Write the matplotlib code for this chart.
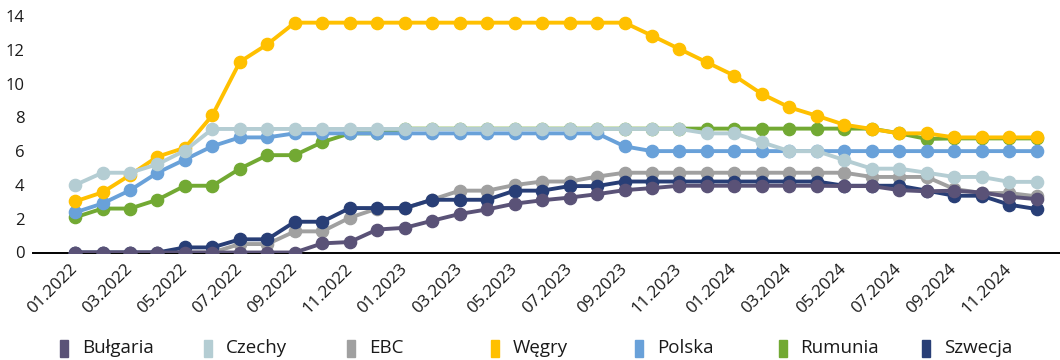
import matplotlib.pyplot as plt
from matplotlib.patches import Rectangle

plt.rcParams['font.family'] = ['Open Sans', 'DejaVu Sans']

# stopy procentowe, dane miesięczne 01.2022 - 12.2024
etykiety = ["01.2022", "03.2022", "05.2022", "07.2022", "09.2022", "11.2022",
            "01.2023", "03.2023", "05.2023", "07.2023", "09.2023", "11.2023",
            "01.2024", "03.2024", "05.2024", "07.2024", "09.2024", "11.2024"]

bulgaria = [0, 0, 0, 0, 0, 0, 0, 0, 0, 0.54, 0.62, 1.36,
            1.46, 1.88, 2.28, 2.55, 2.89, 3.09, 3.25, 3.45, 3.69, 3.81, 3.95, 3.95,
            3.95, 3.95, 3.95, 3.95, 3.93, 3.93, 3.69, 3.62, 3.66, 3.55, 3.30, 3.16]
czechy = [3.99, 4.72, 4.72, 5.22, 6.03, 7.31, 7.31, 7.31, 7.31, 7.31, 7.31, 7.31,
          7.31, 7.31, 7.31, 7.31, 7.31, 7.31, 7.31, 7.31, 7.31, 7.31, 7.31, 7.05,
          7.05, 6.52, 6.00, 6.00, 5.47, 4.96, 4.96, 4.72, 4.47, 4.47, 4.18, 4.18]
ebc = [0, 0, 0, 0, 0, 0, 0.50, 0.50, 1.25, 1.25, 2.06, 2.60,
       2.61, 3.13, 3.66, 3.66, 3.99, 4.20, 4.20, 4.49, 4.72, 4.72, 4.72, 4.72,
       4.72, 4.72, 4.72, 4.72, 4.72, 4.47, 4.47, 4.47, 3.76, 3.52, 3.52, 3.32]
wegry = [3.02, 3.56, 4.58, 5.67, 6.20, 8.12, 11.28, 12.32, 13.6, 13.6, 13.6, 13.6,
         13.6, 13.6, 13.6, 13.6, 13.6, 13.6, 13.6, 13.6, 13.6, 12.83, 12.04, 11.25,
         10.46, 9.38, 8.59, 8.09, 7.56, 7.31, 7.05, 7.05, 6.81, 6.81, 6.81, 6.81]
polska = [2.37, 2.90, 3.68, 4.72, 5.50, 6.29, 6.81, 6.81, 7.05, 7.05, 7.05, 7.05,
          7.05, 7.05, 7.05, 7.05, 7.05, 7.05, 7.05, 7.05, 6.28, 6.00, 6.00, 6.00,
          6.00, 6.00, 6.00, 6.00, 6.00, 6.00, 6.00, 6.00, 6.00, 6.00, 6.00, 6.00]
rumunia = [2.08, 2.60, 2.60, 3.12, 3.95, 3.95, 4.96, 5.76, 5.76, 6.53, 7.05, 7.05,
           7.33, 7.33, 7.33, 7.33, 7.33, 7.33, 7.33, 7.33, 7.33, 7.33, 7.33, 7.33,
           7.33, 7.33, 7.33, 7.33, 7.33, 7.33, 7.05, 6.72, 6.75, 6.75, 6.75, 6.75]
szwecja = [0, 0, 0, 0, 0.30, 0.30, 0.78, 0.78, 1.82, 1.82, 2.63, 2.63,
           2.63, 3.12, 3.12, 3.12, 3.66, 3.66, 3.93, 3.93, 4.20, 4.20, 4.20, 4.20,
           4.20, 4.20, 4.20, 4.20, 3.95, 3.95, 3.95, 3.66, 3.36, 3.36, 2.83, 2.57]

# nazwa, dane, kolor, kolejnosc rysowania
serie = [
    ("Bułgaria", bulgaria, "#5a5277", 9),
    ("Czechy", czechy, "#b4cdd3", 8),
    ("EBC", ebc, "#a0a0a0", 6),
    ("Węgry", wegry, "#ffc000", 5),
    ("Polska", polska, "#69a1d9", 4),
    ("Rumunia", rumunia, "#72a933", 3),
    ("Szwecja", szwecja, "#283e76", 7),
]

W, H = 1060, 360
fig = plt.figure(figsize=(W / 100, H / 100), dpi=100)
ax = fig.add_axes([33 / W, 1 - 252.5 / H, (W - 33) / W, (252.5 - 15.9) / H])

x = list(range(len(bulgaria)))
for nazwa, dane, kolor, z in serie:
    ax.plot(x, dane, color=kolor, lw=2.8, marker='o', ms=8.8, zorder=z,
            solid_joinstyle='round')

ax.set_xlim(-1.53, 35.85)
ax.set_ylim(0, 14)
ax.set_yticks(range(0, 15, 2))
ax.set_xticks(range(0, 36, 2))
ax.set_xticklabels(etykiety, rotation=45, ha='right', va='center',
                   rotation_mode='anchor')
ax.tick_params(axis='y', length=0, labelsize=12, colors='#1a1a1a', pad=6)
ax.tick_params(axis='x', length=0, labelsize=12.3, colors='#1a1a1a', pad=10)

for s in ['left', 'right', 'top']:
    ax.spines[s].set_visible(False)
ax.spines['bottom'].set_color('black')
ax.spines['bottom'].set_linewidth(1.4)
ax.spines['bottom'].set_zorder(1)

# legenda pod wykresem, rowne odstepy
x0, dx, yl = 64, 143.7, 348
for i, (nazwa, dane, kolor, z) in enumerate(serie):
    cx = x0 + i * dx
    fig.patches.append(Rectangle(((cx - 4) / W, 1 - (yl + 8.5) / H), 8 / W, 17 / H,
                                 transform=fig.transFigure, color=kolor))
    fig.text((cx + 18) / W, 1 - yl / H, nazwa, fontsize=13.5, va='center',
             ha='left', color='#1a1a1a')

fig.savefig("out.png", dpi=100)
